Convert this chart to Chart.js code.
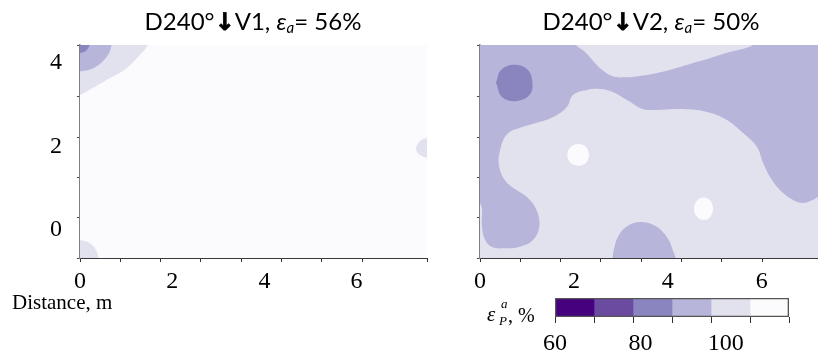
<!DOCTYPE html>
<html>
<head>
<meta charset="utf-8">
<script src="https://cdn.jsdelivr.net/npm/chart.js@4"></script>
<style>
  html, body { margin: 0; padding: 0; background: #fff; overflow: hidden; }
  #wrap { position: relative; width: 818px; height: 360px; }
  canvas { position: absolute; }
  .title { position: absolute; top: 9px; font-family: Lato, sans-serif; font-size: 24px; line-height: 24px; color: #000; white-space: nowrap; transform: translateX(-50%); }
  .title b { font-family: "DejaVu Sans", sans-serif; font-weight: bold; font-size: 24px; -webkit-text-stroke: 0.8px #000; }
  .title i sub { font-size: 15px; vertical-align: -3px; line-height: 0; }
  #xname { position: absolute; left: 12px; top: 292px; font-family: "Liberation Serif", serif; font-size: 21px; line-height: 21px; }
  .cb { position: absolute; font-family: "Liberation Serif", serif; white-space: nowrap; }
</style>
</head>
<body>
<div id="wrap">
  <canvas id="leftChart" width="440" height="300" style="left:0;top:0"></canvas>
  <canvas id="rightChart" width="378" height="300" style="left:440px;top:0"></canvas>
  <canvas id="barChart" width="358" height="75" style="left:460px;top:285px"></canvas>
  <div class="title" style="left:253px">D240°<b>↓</b>V1, <i>ε<sub>a</sub></i>= 56%</div>
  <div class="title" style="left:651px">D240°<b>↓</b>V2, <i>ε<sub>a</sub></i>= 50%</div>
  <div id="xname">Distance, m</div>
  <span class="cb" style="left:487px;top:304px;font-size:21px;line-height:21px;font-style:italic">ε</span>
  <span class="cb" style="left:501px;top:297px;font-size:13px;line-height:13px;font-style:italic">a</span>
  <span class="cb" style="left:499px;top:314px;font-size:13px;line-height:13px;font-style:italic">P</span>
  <span class="cb" style="left:508px;top:305px;font-size:20px;line-height:20px">, %</span>
</div>
<script>
const xTickLabels = [0, 2, 4, 6];
const yTickLabels = [0, 2, 4];
const levelEdges = [60, 70, 80, 90, 100, 110, 120];
const levelLabels = [60, 80, 100];

// contour bands as closed outlines, [distance m, height m]
const v1Base = [[-0.3, -0.9], [7.8, -0.9], [7.8, 4.8], [-0.3, 4.8]];
const v1CornerLight = [[-0.15, 3.15], [0, 3.24], [0.15, 3.32], [0.58, 3.6], [1.01, 3.88], [1.3, 4.2], [1.45, 4.4], [1.55, 4.7], [-0.15, 4.7]];
const v1CornerMid = [[-0.15, 3.75], [0, 3.8], [0.22, 3.85], [0.37, 3.93], [0.5, 4.05], [0.61, 4.2], [0.67, 4.37], [0.72, 4.7], [-0.15, 4.7]];
const v1CornerDark = [[-0.15, 4.2], [0, 4.245], [0.11, 4.28], [0.18, 4.37], [0.21, 4.44], [0.23, 4.7], [-0.15, 4.7]];
const v1FootLight = [[-0.15, -0.2], [0, -0.24], [0.15, -0.28], [0.28, -0.38], [0.37, -0.53], [0.4, -0.67], [0.42, -0.9], [-0.15, -0.9]];
const v1EdgeLight = [[7.7, 2.25], [7.53, 2.21], [7.4, 2.16], [7.31, 2.04], [7.29, 1.97], [7.31, 1.87], [7.4, 1.78], [7.53, 1.73], [7.7, 1.7]];

const v2Base = [[-0.3, -0.9], [7.5, -0.9], [7.5, 4.8], [-0.3, 4.8]];
const v2TopLight = [[1.95, 4.7], [2.04, 4.44], [2.24, 4.27], [2.43, 4.03], [2.6, 3.84], [2.81, 3.69], [3.07, 3.66], [3.41, 3.69], [3.84, 3.78], [4.26, 3.91], [4.69, 4.05], [5.26, 4.25], [5.82, 4.44], [5.95, 4.7]];
const v2MainLight = [[-0.2, -0.84], [-0.2, 0.72], [0.02, 0.6], [0.04, 0.12], [0.11, -0.24], [0.26, -0.41], [0.53, -0.44], [0.85, -0.4], [1.13, -0.24], [1.26, 0.07], [1.21, 0.46], [1.0, 0.79], [0.58, 1.13], [0.41, 1.51], [0.43, 1.92], [0.58, 2.3], [0.85, 2.45], [1.21, 2.57], [1.56, 2.71], [1.85, 2.95], [1.98, 3.24], [2.28, 3.36], [2.56, 3.38], [2.83, 3.31], [3.13, 3.12], [3.47, 2.9], [3.69, 2.88], [4.33, 2.9], [4.84, 2.83], [5.26, 2.64], [5.6, 2.33], [5.9, 1.99], [6.03, 1.61], [6.18, 1.27], [6.39, 0.96], [6.67, 0.72], [6.88, 0.65], [7.09, 0.72], [7.2, 0.79], [7.35, 0.84], [7.35, -0.84]];
const v2LowMid = [[2.81, -0.77], [2.86, -0.43], [2.96, -0.12], [3.15, 0.1], [3.41, 0.19], [3.73, 0.1], [3.96, -0.14], [4.09, -0.43], [4.13, -0.77]];
const v2Dark = [[0.34, 3.53], [0.45, 3.84], [0.72, 3.96], [1.0, 3.86], [1.11, 3.6], [1.07, 3.26], [0.77, 3.09], [0.47, 3.19]];
const v2Spot1 = [[2.33, 1.8], [2.26, 1.99], [2.1, 2.06], [1.93, 1.99], [1.86, 1.8], [1.93, 1.61], [2.1, 1.54], [2.26, 1.61]];
const v2Spot2 = [[4.97, 0.51], [4.91, 0.7], [4.77, 0.78], [4.62, 0.7], [4.56, 0.51], [4.62, 0.32], [4.77, 0.24], [4.91, 0.32]];

// band lower edge (%) for each outline, bottom layer first
const v1Bands = [[110, v1Base], [100, v1CornerLight], [90, v1CornerMid], [80, v1CornerDark], [100, v1FootLight], [100, v1EdgeLight]];
const v2Bands = [[90, v2Base], [100, v2TopLight], [100, v2MainLight], [90, v2LowMid], [80, v2Dark], [110, v2Spot1], [110, v2Spot2]];

const bandColors = ['#46017f', '#6a4ba0', '#8a85bf', '#b7b5d9', '#e2e1ee', '#fbfbfd'];
const tickFont = { family: '"Liberation Serif", "Times New Roman", serif', size: 24 };
const yMin = -0.671, yMax = 4.436;

function bandDatasets(bands) {
  const sets = bands.map(([lvl, pts], i) => ({
    data: pts.concat([pts[0]]).map(p => ({ x: p[0], y: p[1] })),
    showLine: true,
    fill: 'shape',
    backgroundColor: bandColors[levelEdges.indexOf(lvl)],
    borderColor: 'transparent',
    borderWidth: 0,
    pointRadius: 0,
    tension: i === 0 ? 0 : 0.4
  }));
  // chart.js paints dataset 0 last, so put the top layer first
  return sets.reverse();
}

function plotScales(xMax, xtMax, showY) {
  return {
    x: {
      type: 'linear', position: 'bottom', min: 0, max: xMax, weight: 1,
      grid: { display: false, drawTicks: false }, border: { display: false },
      ticks: { font: tickFont, color: '#000', padding: 5, maxRotation: 0 },
      afterBuildTicks: s => { s.ticks = xTickLabels.map(v => ({ value: v })); },
      afterFit: s => { s.height = 38; }
    },
    xt: {
      type: 'linear', position: 'bottom', min: 0, max: xtMax, weight: 0, z: 1,
      grid: { drawOnChartArea: false, tickLength: 4, color: '#333' },
      border: { color: '#3a3a3a', width: 1 },
      ticks: { display: false, stepSize: 1 },
      afterFit: s => { s.height = 4; }
    },
    y: {
      type: 'linear', position: 'left', min: yMin, max: yMax, weight: 1, display: showY,
      grid: { display: false, drawTicks: false }, border: { display: false },
      ticks: { font: tickFont, color: '#000', padding: 15 },
      afterBuildTicks: s => { s.ticks = yTickLabels.map(v => ({ value: v })); },
      afterFit: s => { s.width = showY ? 77 : 0; }
    },
    yt: {
      type: 'linear', position: 'left', min: 0, max: 5.285, weight: 0, z: 1,
      grid: { drawOnChartArea: false, tickLength: 3, color: '#444' },
      border: { color: '#808080', width: 1.5 },
      ticks: { display: false, stepSize: 1 },
      afterFit: s => { s.width = 3; }
    }
  };
}

function plotOptions(xMax, xtMax, showY, padLeft, padRight) {
  return {
    responsive: false,
    animation: false,
    layout: { padding: { top: 45, left: padLeft, right: padRight, bottom: 0 } },
    plugins: { legend: { display: false }, tooltip: { enabled: false } },
    scales: plotScales(xMax, xtMax, showY)
  };
}

new Chart(document.getElementById('leftChart'), {
  type: 'scatter',
  data: { datasets: bandDatasets(v1Bands) },
  options: plotOptions(7.527, 8.61, true, 0, 13)
});

new Chart(document.getElementById('rightChart'), {
  type: 'scatter',
  data: { datasets: bandDatasets(v2Bands) },
  options: plotOptions(7.2, 8.387, false, 37, 0)
});

// colour bar: one floating bar per band plus an outline
const barSets = bandColors.map((c, i) => ({
  data: [[levelEdges[i], levelEdges[i + 1]]],
  backgroundColor: c,
  borderWidth: 0
}));
barSets.unshift({
  data: [[levelEdges[0], levelEdges[levelEdges.length - 1]]],
  backgroundColor: 'transparent',
  borderColor: '#555',
  borderWidth: 1,
  borderSkipped: false
});

new Chart(document.getElementById('barChart'), {
  type: 'bar',
  data: { labels: [''], datasets: barSets },
  options: {
    responsive: false,
    animation: false,
    indexAxis: 'y',
    barPercentage: 1,
    categoryPercentage: 1,
    grouped: false,
    layout: { padding: { top: 13, left: 95, right: 29, bottom: 0 } },
    plugins: { legend: { display: false }, tooltip: { enabled: false } },
    scales: {
      y: { display: false },
      x: {
        type: 'linear', position: 'bottom', min: 60, max: 120, weight: 0, z: 1,
        grid: { drawOnChartArea: false, tickLength: 6, color: '#333' },
        border: { display: false },
        ticks: { display: false },
        afterBuildTicks: s => { s.ticks = levelEdges.map(v => ({ value: v })); },
        afterFit: s => { s.height = 6; }
      },
      xl: {
        type: 'linear', position: 'bottom', min: 60, max: 114.8, weight: 1,
        grid: { display: false, drawTicks: false }, border: { display: false },
        ticks: { font: tickFont, color: '#000', padding: 6, maxRotation: 0 },
        afterBuildTicks: s => { s.ticks = levelLabels.map(v => ({ value: v })); },
        afterFit: s => { s.height = 37; }
      }
    }
  }
});
</script>
</body>
</html>
